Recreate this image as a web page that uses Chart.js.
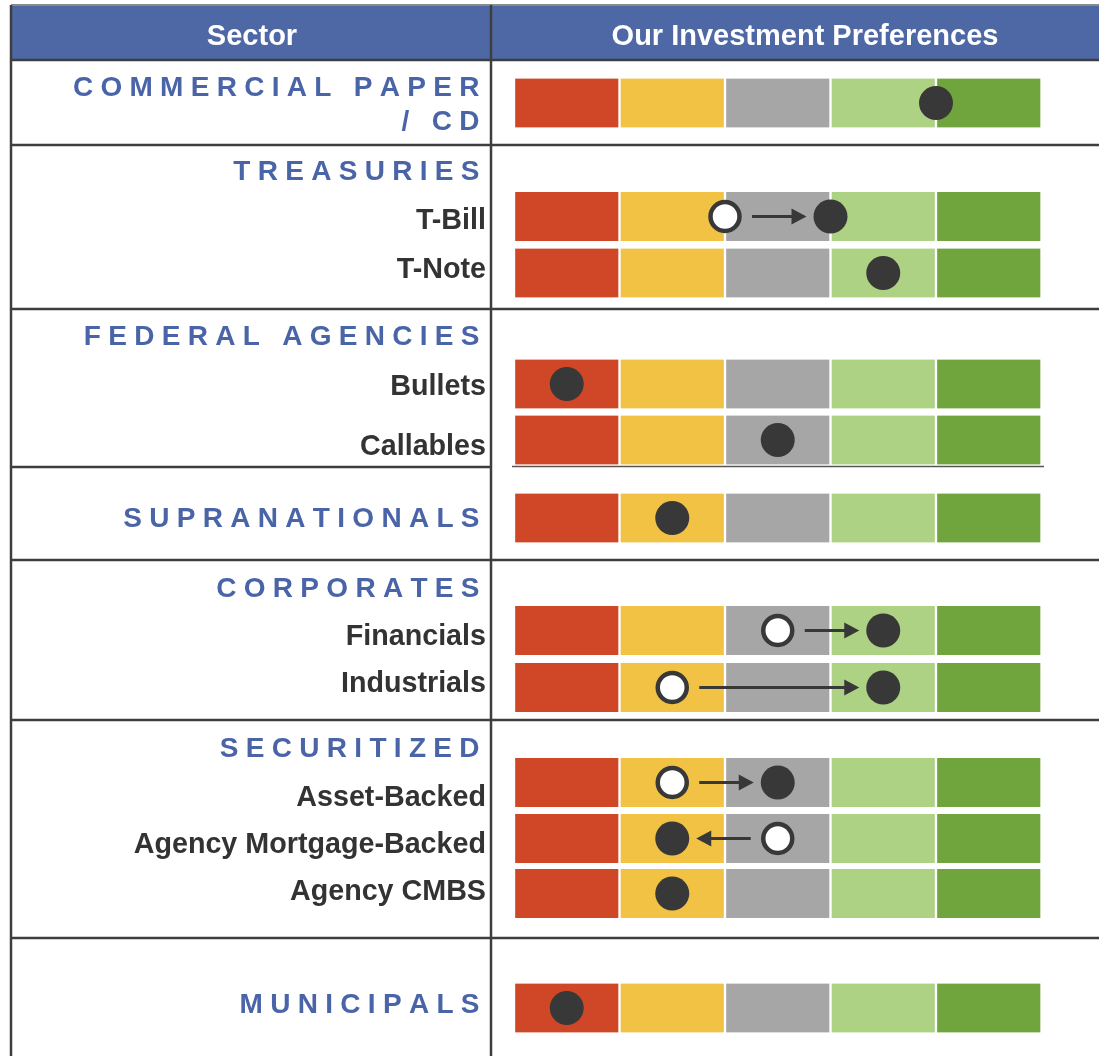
<!DOCTYPE html>
<html>
<head>
<meta charset="utf-8">
<script src="https://cdn.jsdelivr.net/npm/chart.js@4/dist/chart.umd.min.js"></script>
<style>
  html, body { margin: 0; padding: 0; background: #ffffff; }
  canvas { display: block; }
</style>
</head>
<body>
<canvas id="c" width="1099" height="1056"></canvas>
<script>
// ---------------- DATA ----------------
const columnHeaders = ['Sector', 'Our Investment Preferences'];
const groupNames = [['COMMERCIAL PAPER', '/ CD'], ['TREASURIES'], ['FEDERAL AGENCIES'], ['SUPRANATIONALS'], ['CORPORATES'], ['SECURITIZED'], ['MUNICIPALS']];
const rowLabels = ['', 'T-Bill', 'T-Note', 'Bullets', 'Callables', '', 'Financials', 'Industrials', 'Asset-Backed', 'Agency Mortgage-Backed', 'Agency CMBS', ''];
// preference scale: five bands, 0..5 (red -> dark green)
const bands = [0, 1, 2, 3, 4];
const currentView  = [4.0, 3.0, 3.5, 0.5, 2.5, 1.5, 3.5, 3.5, 2.5, 1.5, 1.5, 0.5];
const previousView = [null, 2.0, null, null, null, null, 2.5, 1.5, 1.5, 2.5, null, null];

// ---------------- LAYOUT / STYLE ----------------
const layout = {
  width: 1099, height: 1056,
  rowY: [103, 216.5, 273, 384, 440, 518, 630.5, 687.5, 782.5, 838.5, 893.5, 1008],
  rowLabelBaseline: [null, 229, 278, 395, 455, 527, 645, 692, 806, 853, 900, null],
  groupBaseline: [[96, 130], [180], [345], [527], [597], [757], [1013]],
  separators: [145, 309, 560, 720, 938],
  callablesLine: { y: 466.5, x0: 512, x1: 1044 },
  callablesLeftSep: 467,
  headerTop: 5, headerBottom: 60,
  leftX: 11, dividerX: 491,
  groupRight: 479.5, labelRight: 486,
  sectorCenter: 252, prefCenter: 805, headerBaseline: 45,
  barLeft: 514, barRight: 1041.5, barThickness: 49
};
const style = {
  bandColors: ['#D04727', '#F2C244', '#A6A6A6', '#ADD283', '#70A43C'],
  headerFill: '#4E68A6',
  groupColor: '#4A64A8',
  labelColor: '#333333',
  lineColor: '#3E3E3E',
  dot: '#383838',
  font: '"Liberation Sans", Arial, Helvetica, sans-serif',
  arrowStartGap: 27, arrowTipGap: 24, arrowHead: 15, arrowHalf: 8
};

// ---------------- PLUGINS ----------------
const tablePlugin = {
  id: 'table',
  beforeDraw(chart) {
    const ctx = chart.ctx;
    ctx.save();
    ctx.fillStyle = '#ffffff';
    ctx.fillRect(0, 0, layout.width, layout.height);
    ctx.fillStyle = style.headerFill;
    ctx.fillRect(layout.leftX, layout.headerTop, layout.width - layout.leftX, layout.headerBottom - layout.headerTop);
    ctx.restore();
  },
  afterDraw(chart) {
    const ctx = chart.ctx;
    const ys = chart.scales.y;
    ctx.save();
    // header text
    ctx.fillStyle = '#ffffff';
    ctx.font = 'bold 29px ' + style.font;
    ctx.textAlign = 'center';
    ctx.textBaseline = 'alphabetic';
    ctx.fillText(columnHeaders[0], layout.sectorCenter, layout.headerBaseline);
    ctx.fillText(columnHeaders[1], layout.prefCenter, layout.headerBaseline);

    // group names (letter spaced, right aligned)
    ctx.fillStyle = style.groupColor;
    ctx.font = 'bold 28px ' + style.font;
    ctx.textAlign = 'left';
    const spacing = 7.3;
    groupNames.forEach((lines, g) => {
      lines.forEach((txt, li) => {
        const chars = Array.from(txt);
        const widths = chars.map(ch => ctx.measureText(ch).width);
        const total = widths.reduce((a, b) => a + b, 0) + spacing * (chars.length - 1);
        let x = layout.groupRight - total;
        const y = ys.getPixelForValue(layout.groupBaseline[g][li]);
        chars.forEach((ch, k) => { ctx.fillText(ch, x, y); x += widths[k] + spacing; });
      });
    });

    // row labels
    ctx.fillStyle = style.labelColor;
    ctx.font = 'bold 28.7px ' + style.font;
    ctx.textAlign = 'right';
    rowLabels.forEach((lab, i) => {
      if (!lab) return;
      ctx.fillText(lab, layout.labelRight, ys.getPixelForValue(layout.rowLabelBaseline[i]));
    });

    // grid lines
    ctx.strokeStyle = '#8a8a8a';
    ctx.lineWidth = 2;
    ctx.beginPath();
    ctx.moveTo(layout.leftX, layout.headerTop); ctx.lineTo(layout.width, layout.headerTop);
    ctx.stroke();
    ctx.strokeStyle = style.lineColor;
    ctx.lineWidth = 2.5;
    ctx.beginPath();
    ctx.moveTo(layout.leftX, layout.headerBottom); ctx.lineTo(layout.width, layout.headerBottom);
    layout.separators.forEach(s => {
      const y = ys.getPixelForValue(s);
      ctx.moveTo(layout.leftX, y); ctx.lineTo(layout.width, y);
    });
    ctx.moveTo(layout.leftX, ys.getPixelForValue(layout.callablesLeftSep)); ctx.lineTo(layout.dividerX, ys.getPixelForValue(layout.callablesLeftSep));
    ctx.moveTo(layout.leftX, layout.headerTop); ctx.lineTo(layout.leftX, layout.height);
    ctx.moveTo(layout.dividerX, layout.headerTop); ctx.lineTo(layout.dividerX, layout.height);
    ctx.stroke();
    ctx.lineWidth = 1.5;
    ctx.strokeStyle = '#555555';
    ctx.beginPath();
    ctx.moveTo(layout.callablesLine.x0, ys.getPixelForValue(layout.callablesLine.y));
    ctx.lineTo(layout.callablesLine.x1, ys.getPixelForValue(layout.callablesLine.y));
    ctx.stroke();
    ctx.restore();
  }
};

const arrowPlugin = {
  id: 'arrows',
  afterDatasetsDraw(chart) {
    const ctx = chart.ctx;
    const xs = chart.scales.x, ys = chart.scales.y;
    ctx.save();
    ctx.strokeStyle = style.dot;
    ctx.fillStyle = style.dot;
    ctx.lineWidth = 3;
    previousView.forEach((p, i) => {
      if (p === null) return;
      const x0 = xs.getPixelForValue(p);
      const x1 = xs.getPixelForValue(currentView[i]);
      const y = ys.getPixelForValue(layout.rowY[i]);
      const d = Math.sign(x1 - x0);
      const start = x0 + d * style.arrowStartGap;
      const tip = x1 - d * style.arrowTipGap;
      const base = tip - d * style.arrowHead;
      ctx.beginPath();
      ctx.moveTo(start, y); ctx.lineTo(base + d * 1, y);
      ctx.stroke();
      ctx.beginPath();
      ctx.moveTo(tip, y);
      ctx.lineTo(base, y - style.arrowHalf);
      ctx.lineTo(base, y + style.arrowHalf);
      ctx.closePath();
      ctx.fill();
    });
    ctx.restore();
  }
};

// ---------------- CHART ----------------
const bandDatasets = bands.map((b, k) => ({
  type: 'bar',
  indexAxis: 'y',
  order: 3,
  data: layout.rowY.map(y => ({ x: [b, b + 1], y: y })),
  backgroundColor: style.bandColors[k],
  borderColor: '#ffffff',
  borderWidth: { left: 1.5, right: 1.5, top: 0, bottom: 0 },
  borderSkipped: false,
  barThickness: layout.barThickness,
  grouped: false
}));

const currentDots = {
  type: 'scatter',
  order: 1,
  data: currentView.map((v, i) => ({ x: v, y: layout.rowY[i] })),
  pointRadius: 17,
  pointHoverRadius: 17,
  backgroundColor: style.dot,
  borderColor: style.dot,
  borderWidth: 0,
  clip: false
};

const previousDots = {
  type: 'scatter',
  order: 0,
  data: previousView.map((v, i) => (v === null ? null : { x: v, y: layout.rowY[i] })).filter(Boolean),
  pointRadius: 14.5,
  pointHoverRadius: 14.5,
  backgroundColor: '#ffffff',
  borderColor: style.dot,
  borderWidth: 4.5,
  clip: false
};

new Chart(document.getElementById('c'), {
  type: 'bar',
  data: { datasets: [...bandDatasets, currentDots, previousDots] },
  options: {
    indexAxis: 'y',
    responsive: false,
    animation: false,
    events: [],
    layout: { autoPadding: false, padding: { left: layout.barLeft, right: layout.width - layout.barRight, top: 0, bottom: 0 } },
    plugins: { legend: { display: false }, tooltip: { enabled: false }, title: { display: false } },
    scales: {
      x: { type: 'linear', min: 0, max: bands.length, offset: false, grace: 0, display: false },
      y: { type: 'linear', min: 0, max: layout.height, reverse: true, offset: false, grace: 0, display: false }
    }
  },
  plugins: [tablePlugin, arrowPlugin]
});
</script>
</body>
</html>
